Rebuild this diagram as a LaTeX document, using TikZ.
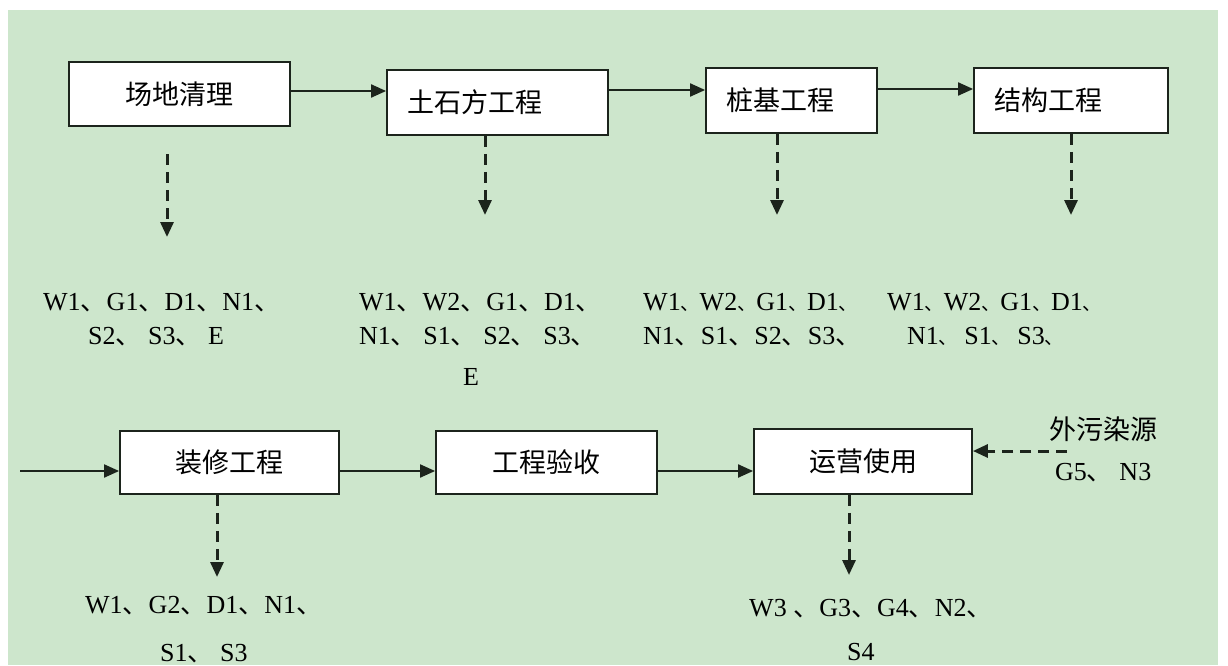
\documentclass[tikz,border=0pt]{standalone}
\usepackage{fontspec}
\setmainfont{Liberation Serif}
\newfontfamily\cjk{Noto Sans CJK SC}
\usepackage{tikz}
\usetikzlibrary{calc}
\usetikzlibrary{arrows.meta}
\newcommand{\dun}{{\cjk 、}}
\newcommand{\dunn}{{\cjk\fontsize{19}{22}\selectfont 、}}
\definecolor{cbg}{RGB}{205,230,204}
\definecolor{cln}{RGB}{28,36,28}
\tikzstyle{stage}=[draw=cln, fill=white, line width=1.8pt, inner sep=0pt, font=\cjk\fontsize{27}{32}\selectfont]
\tikzstyle{lstage}=[stage, inner xsep=20pt, align=left]
\tikzstyle{emit}=[inner sep=0pt, anchor=base west, font=\fontsize{26}{30}\selectfont]
\tikzstyle{note}=[inner sep=0pt, font=\cjk\fontsize{27}{32}\selectfont]
\tikzstyle{flow}=[cln, line width=2pt, -{Triangle[length=15pt,width=13pt]}]
\tikzstyle{waste}=[flow, line width=3pt, dash pattern=on 11pt off 7pt]

\begin{document}
\begin{tikzpicture}[x=1pt, y=-1pt]
  \useasboundingbox (0,0) rectangle (1228,665);
  \fill [cbg] (8,10) rectangle (1218,665);

  % first row
  \node [stage, minimum width=221pt, minimum height=64pt] (clear) at (179.5,94) {场地清理};
  \node [lstage, text width=181pt, minimum height=65pt] (earth) at (497.5,102.5) {土石方工程};
  \node [lstage, text width=131pt, minimum height=65pt] (pile) at (791.5,100.5) {桩基工程};
  \node [lstage, text width=154pt, minimum height=65pt] (frame) at (1071,100.5) {结构工程};

  % second row
  \node [stage, minimum width=219pt, minimum height=63pt] (fit) at (229.5,462.5) {装修工程};
  \node [stage, minimum width=221pt, minimum height=63pt] (accept) at (546.5,462.5) {工程验收};
  \node [stage, minimum width=218pt, minimum height=65pt] (use) at (863,461.5) {运营使用};

  \node [note] (outer) at (1103,429) {外污染源};
  \node [emit] (outerb) at (1055,480) {G5\dun{} N3};

  % emissions
  \node [emit] (eclear1) at (43,310) {W1\dun G1\dun D1\dun N1\dun};
  \node [emit] (eclear2) at (88,344) {S2\dun{} S3\dun{} E};
  \node [emit] (eearth1) at (359,310) {W1\dun W2\dun G1\dun D1\dun};
  \node [emit] (eearth2) at (359,344) {N1\dun{} S1\dun{} S2\dun{} S3\dun};
  \node [emit] (eearth3) at (463,385) {E};
  \node [emit] (epile1) at (643,310) {W1\dunn W2\dunn G1\dunn D1\dunn};
  \node [emit] (epile2) at (643,344) {N1\dun S1\dun S2\dun S3\dun};
  \node [emit] (eframe1) at (887,310) {W1\dunn W2\dunn G1\dunn D1\dunn};
  \node [emit] (eframe2) at (907,344) {N1\dunn{} S1\dunn{} S3\dunn};
  \node [emit] (efit1) at (85,613) {W1\dun G2\dun D1\dun N1\dun};
  \node [emit] (efit2) at (160,661) {S1\dun{} S3};
  \node [emit] (euse1) at (749,616) {W3 \dun G3\dun G4\dun N2\dun};
  \node [emit] (euse2) at (847,660) {S4};

  % process flow
  \coordinate (f1) at (clear.east |- 0,91);
  \coordinate (f2) at (earth.east |- 0,90);
  \coordinate (f3) at (pile.east |- 0,89);
  \coordinate (start) at (20,471);
  \coordinate (f5) at (fit.east |- 0,471);
  \coordinate (f6) at (accept.east |- 0,471);
  \draw [flow] (f1) -- (f1 -| earth.west);
  \draw [flow] (f2) -- (f2 -| pile.west);
  \draw [flow] (f3) -- (f3 -| frame.west);
  \draw [flow] (start) -- (start -| fit.west);
  \draw [flow] (f5) -- (f5 -| accept.west);
  \draw [flow] (f6) -- (f6 -| use.west);

  % pollutant arrows
  \coordinate (d1s) at (167,154);
  \coordinate (d1) at (167,237);
  \coordinate (d2) at (485,215);
  \coordinate (d3) at (777,215);
  \coordinate (d4) at (1071,215);
  \coordinate (d5) at (217,577);
  \coordinate (d7) at (849,575);
  \coordinate (d8) at (1067,451);
  \draw [waste] (d1s) -- (d1);
  \draw [waste] (earth.south -| d2) -- (d2);
  \draw [waste] (pile.south -| d3) -- (d3);
  \draw [waste] (frame.south -| d4) -- (d4);
  \draw [waste] (fit.south -| d5) -- (d5);
  \draw [waste] (use.south -| d7) -- (d7);
  \draw [waste] (d8) -- (d8 -| use.east);
\end{tikzpicture}
\end{document}
